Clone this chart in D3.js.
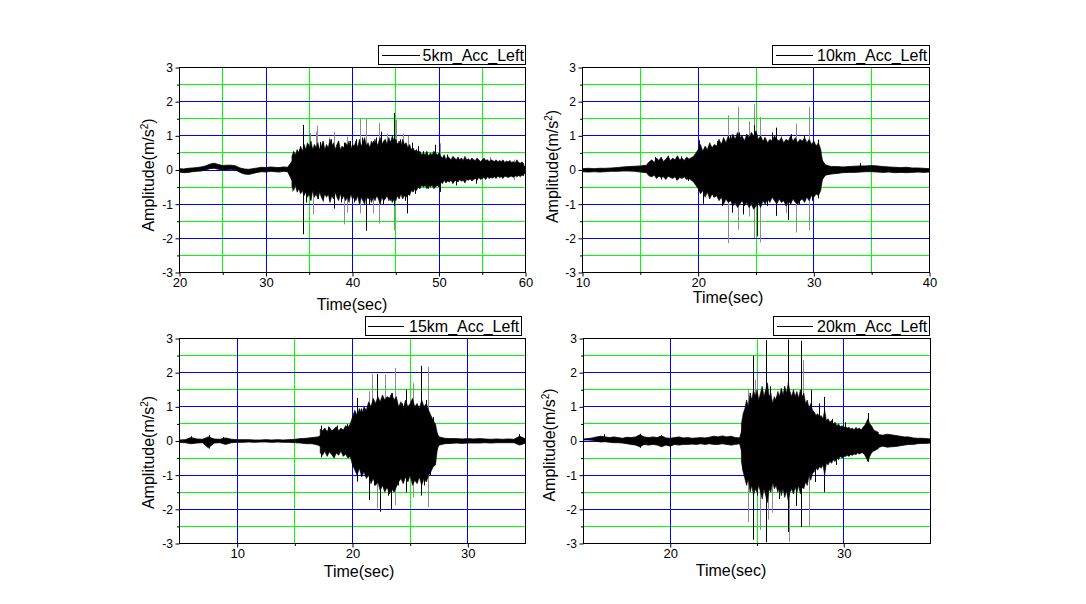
<!DOCTYPE html>
<html><head><meta charset="utf-8">
<script src="https://cdn.jsdelivr.net/npm/d3@7"></script>
<style>
body{margin:0;background:#fff}
svg{display:block}
text{font-family:"Liberation Sans",Arial,sans-serif;fill:#000}
</style>
</head><body>
<svg id="chart" width="1086" height="604"></svg>
<script>
// ---------------- DATA ----------------
const yTickValues = [-3, -2, -1, 0, 1, 2, 3];
const yTickLabels = ["-3", "-2", "-1", "0", "1", "2", "3"];
const yMinorValues = [-2.5, -1.5, -0.5, 0.5, 1.5, 2.5];
const yGridMajor = [-2, -1, 0, 1, 2];

// Panel 1 : 5 km
const p1Name = "5km_Acc_Left";
const p1XDomain = [20, 60];
const p1XTicks = [20, 30, 40, 50, 60];
const p1XTickLabels = ["20", "30", "40", "50", "60"];
const p1XMinor = [25, 35, 45, 55];
// solid core of the trace (envelope), sampled every 0.5 s
const p1TimeStart = 20, p1TimeStep = 0.5;
const p1Upper = [0.04,0.03,0.05,0.06,0.07,0.09,0.12,0.17,0.2,0.16,0.13,0.14,0.14,0.12,0.06,0.03,0.02,0.04,0.06,0.08,0.07,0.09,0.08,0.07,0.09,0.08,
  0.25,0.4,0.35,0.5,0.45,0.5,0.45,0.5,0.45,0.55,0.45,0.5,0.45,0.55,0.45,0.55,0.5,0.6,0.5,0.55,0.55,0.6,0.55,0.6,0.6,0.5,0.55,0.45,0.4,
  0.35,0.32,0.35,0.3,0.32,0.28,0.25,0.24,0.22,0.23,0.2,0.22,0.19,0.18,0.2,0.19,0.18,0.17,0.16,0.17,0.15,0.15,0.13,0.14,0.12,0.11];
const p1Lower = [-0.06,-0.08,-0.07,-0.05,-0.04,-0.03,0.0,0.04,0.05,0.02,0.0,0.01,0.02,0.0,-0.07,-0.12,-0.13,-0.1,-0.07,-0.05,-0.06,-0.04,-0.05,-0.06,-0.04,-0.05,
  -0.3,-0.45,-0.4,-0.5,-0.45,-0.55,-0.45,-0.5,-0.45,-0.55,-0.5,-0.55,-0.55,-0.5,-0.55,-0.5,-0.6,-0.5,-0.55,-0.5,-0.6,-0.5,-0.55,-0.5,-0.6,-0.5,-0.5,-0.45,-0.4,
  -0.35,-0.32,-0.3,-0.32,-0.35,-0.28,-0.25,-0.24,-0.22,-0.24,-0.2,-0.22,-0.19,-0.17,-0.19,-0.16,-0.17,-0.14,-0.15,-0.13,-0.14,-0.12,-0.12,-0.13,-0.11,-0.1];
// oscillation peaks (max / min) every 0.2 s over the strong-motion part
const p1PeakStart = 33.0, p1PeakStep = 0.2;
const p1PeakHi = [0.4,0.55,0.45,0.6,0.5,0.7,0.55,0.75,0.6,0.8,
  0.65,0.85,0.6,0.75,0.65,0.8,0.6,0.7,0.85,0.6,
  0.75,0.65,0.9,0.7,0.8,0.6,0.75,0.85,0.6,0.7,
  0.65,0.8,0.7,0.85,0.6,0.75,0.7,0.85,0.65,0.9,
  0.7,0.8,0.95,0.7,0.8,0.65,0.85,0.75,0.9,0.7,
  0.8,0.95,0.75,0.85,0.9,0.75,0.95,0.8,1.0,0.85,
  0.9,0.75,0.85,0.7,0.9,0.75,0.8,0.65,0.75,0.6,
  0.65,0.55,0.6,0.5,0.55,0.45,0.5,0.45,0.55,0.4,
  0.5,0.45,0.55,0.5,0.45,0.5,
  0.4,0.35,0.45,0.3,0.4,0.35,0.3,0.4,0.35,0.3,
  0.38,0.3,0.35,0.28,0.4,0.3,0.33,0.28,0.35,0.3,
  0.28,0.35,0.3,0.25,0.3,0.35,0.28,0.3,0.25,0.3,
  0.28,0.25,0.3,0.24,0.28,0.25,0.3,0.22,0.26,0.24,
  0.28,0.22,0.25,0.2,0.3,0.22,0.2,0.24,0.18];
const p1PeakLo = [-0.5,-0.6,-0.45,-0.65,-0.55,-0.7,-0.6,-0.75,-0.65,-0.8,
  -0.7,-0.9,-0.6,-0.8,-0.7,-0.85,-0.65,-0.8,-0.9,-0.7,
  -0.8,-0.7,-0.95,-0.75,-0.85,-0.65,-0.8,-0.9,-0.7,-0.85,
  -0.75,-0.9,-0.8,-0.95,-0.7,-0.85,-0.8,-0.9,-0.75,-1.0,
  -0.8,-0.9,-1.0,-0.75,-0.85,-0.8,-0.95,-0.8,-0.9,-0.75,
  -0.85,-1.0,-0.8,-0.9,-0.85,-0.75,-0.9,-0.8,-0.95,-0.85,
  -0.9,-0.75,-0.85,-0.7,-0.85,-0.75,-0.8,-0.7,-0.75,-0.6,
  -0.65,-0.55,-0.6,-0.5,-0.55,-0.45,-0.5,-0.45,-0.55,-0.45,
  -0.5,-0.45,-0.55,-0.5,-0.45,-0.5,
  -0.35,-0.4,-0.3,-0.38,-0.32,-0.35,-0.3,-0.4,-0.32,-0.3,
  -0.35,-0.28,-0.33,-0.3,-0.38,-0.28,-0.3,-0.26,-0.32,-0.28,
  -0.25,-0.3,-0.22,-0.28,-0.25,-0.22,-0.28,-0.2,-0.25,-0.22,
  -0.24,-0.2,-0.25,-0.18,-0.22,-0.2,-0.25,-0.18,-0.2,-0.22,
  -0.2,-0.18,-0.22,-0.17,-0.2,-0.16,-0.2,-0.15,-0.17];
// isolated large spikes [time, peak value, shade: 0 black / 1 grey]
const p1Spikes = [[33.1,0.45,1],[33.1,-0.64,1],[33.6,-0.63,1],[33.9,0.6,0],[34.3,1.32,0],[34.3,-1.88,0],[34.7,-0.95,0],[34.9,0.75,0],
  [35.1,1.08,1],[35.1,-0.88,0],[35.5,-1.3,1],[35.8,1.12,1],[35.9,1.3,1],[36.1,-0.85,0],[36.3,0.82,0],[36.7,0.8,0],[36.7,-0.95,1],
  [37.3,0.95,1],[37.3,-0.9,0],[37.6,0.9,0],[37.9,1.12,1],[37.9,-1.13,0],[38.4,0.85,0],[38.7,-0.95,0],[39.1,-1.59,1],[39.1,0.8,0],
  [39.4,0.98,1],[39.4,-1.25,1],[39.8,0.85,0],[40.2,-0.95,0],[40.5,0.9,0],[40.9,1.49,1],[40.9,-1.27,1],[41.2,0.95,0],[41.6,1.49,1],
  [41.6,-1.78,0],[42.0,-1.0,0],[42.4,-1.27,1],[42.4,0.85,0],[42.8,0.95,0],[43.1,1.37,1],[43.1,-1.57,1],[43.3,1.12,0],[43.6,-1.0,0],
  [44.1,1.05,1],[44.4,-0.9,0],[44.8,1.67,0],[44.8,-1.76,1],[44.9,-1.05,0],[45.1,1.47,1],[45.5,0.9,0],[45.9,1.05,1],[46.1,-0.9,0],
  [46.4,-1.27,0],[46.5,1.0,1],[46.9,0.8,0],[47.3,-0.7,0],[47.6,0.7,0],[48.2,0.55,0],[48.8,-0.55,0],[49.6,0.74,0],[50.2,0.78,1],
  [50.2,-0.64,0],[51.0,0.45,0],[52.0,-0.45,0],[54.3,-0.4,0],[56.0,0.38,1],[58.7,0.3,1],[58.7,-0.3,1]];

// Panel 2 : 10 km
const p2Name = "10km_Acc_Left";
const p2XDomain = [10, 40];
const p2XTicks = [10, 20, 30, 40];
const p2XTickLabels = ["10", "20", "30", "40"];
const p2XMinor = [15, 25, 35];
const p2TimeStart = 10, p2TimeStep = 0.5;
const p2Upper = [0.04,0.05,0.04,0.05,0.05,0.06,0.07,0.09,0.1,0.11,0.12,0.14,0.18,0.2,0.22,0.2,0.22,0.2,0.22,0.25,
  0.35,0.4,0.45,0.45,0.55,0.55,0.6,0.65,0.6,0.65,0.65,0.6,0.55,0.55,0.6,0.6,0.6,0.55,0.6,0.5,
  0.5,0.4,0.15,0.1,0.1,0.09,0.1,0.11,0.12,0.12,0.13,0.12,0.1,0.09,0.08,0.07,0.08,0.06,0.06,0.05,0.04];
const p2Lower = [-0.05,-0.06,-0.05,-0.06,-0.05,-0.04,-0.04,-0.03,-0.03,-0.04,-0.06,-0.08,-0.1,-0.12,-0.12,-0.13,-0.12,-0.14,-0.15,-0.2,
  -0.3,-0.4,-0.4,-0.45,-0.5,-0.55,-0.55,-0.6,-0.6,-0.65,-0.6,-0.6,-0.55,-0.5,-0.55,-0.6,-0.65,-0.55,-0.6,-0.55,
  -0.5,-0.4,-0.15,-0.12,-0.1,-0.08,-0.07,-0.07,-0.06,-0.05,-0.05,-0.06,-0.07,-0.06,-0.08,-0.07,-0.08,-0.07,-0.06,-0.07,-0.06];
const p2PeakStart = 15.6, p2PeakStep = 0.2;
const p2PeakHi = [0.18,0.25,0.3,0.22,0.35,0.28,0.38,0.25,0.32,0.4,0.28,0.35,0.3,0.42,0.3,0.35,0.28,0.38,0.32,0.36,
  0.4,0.5,0.6,0.75,0.55,0.7,0.6,0.8,0.65,0.75,
  0.7,0.9,0.75,0.95,0.8,1.0,0.85,1.05,0.9,1.1,
  0.95,1.0,0.85,1.05,0.95,1.1,1.0,1.15,0.9,1.0,
  0.85,0.95,0.8,0.9,0.85,1.0,0.9,0.85,0.95,0.8,
  0.9,0.85,1.0,0.85,0.95,0.8,0.9,0.85,0.95,0.8,
  0.9,0.75,0.85,0.7,0.8,0.6,0.15,0.12];
const p2PeakLo = [-0.12,-0.18,-0.2,-0.15,-0.25,-0.18,-0.22,-0.2,-0.28,-0.18,-0.22,-0.25,-0.2,-0.3,-0.22,-0.25,-0.2,-0.28,-0.25,-0.3,
  -0.35,-0.45,-0.55,-0.7,-0.6,-0.8,-0.65,-0.85,-0.7,-0.8,
  -0.75,-0.9,-0.8,-1.0,-0.85,-0.95,-0.9,-1.05,-0.95,-1.1,
  -1.0,-0.9,-1.05,-0.95,-1.1,-1.0,-1.15,-1.05,-0.95,-1.1,
  -0.9,-1.0,-0.85,-0.95,-0.8,-0.9,-1.0,-0.85,-0.95,-0.9,
  -1.05,-0.9,-1.0,-0.85,-0.95,-1.0,-0.9,-0.85,-0.95,-0.8,
  -0.9,-0.75,-0.8,-0.7,-0.75,-0.6,-0.15,-0.12];
const p2Spikes = [[16.3,0.38,0],[16.8,-0.28,0],[17.4,0.42,0],[18.1,-0.3,0],[18.6,0.4,0],[19.2,-0.32,0],[20.1,0.87,0],[20.2,-0.68,0],
  [20.5,-0.99,0],[20.9,0.7,0],[21.3,-0.8,0],[21.7,0.85,0],[22.1,-1.05,0],[22.6,1.6,1],[22.6,-2.14,1],[22.8,1.0,0],[23.0,-1.25,0],
  [23.5,1.84,1],[23.5,-1.75,1],[23.6,1.1,0],[23.9,-1.3,0],[24.2,1.0,0],[24.4,-1.36,1],[24.4,1.42,1],[24.9,1.92,1],[24.9,1.31,0],
  [24.9,-1.99,1],[25.1,-1.94,0],[25.4,1.55,1],[25.4,-2.12,1],[25.7,0.95,0],[26.0,-1.05,0],[26.4,1.1,0],[26.8,1.24,0],[26.8,-1.34,0],
  [27.2,1.0,1],[27.6,-1.25,1],[27.8,-1.46,0],[28.1,1.05,0],[28.5,1.36,1],[28.5,-1.83,1],[28.8,-1.0,0],[29.2,1.0,0],[29.6,1.84,1],
  [29.6,-1.77,1],[29.9,-0.9,0],[30.4,0.89,0],[30.4,-0.83,0],[34.0,0.2,0]];

// Panel 3 : 15 km
const p3Name = "15km_Acc_Left";
const p3XDomain = [5, 35];
const p3XTicks = [10, 20, 30];
const p3XTickLabels = ["10", "20", "30"];
const p3XMinor = [15, 25];
const p3TimeStart = 5, p3TimeStep = 0.5;
const p3Upper = [0.03,0.04,0.1,0.06,0.05,0.12,0.06,0.05,0.09,0.05,0.04,0.04,0.04,0.03,0.03,0.04,0.03,0.04,0.03,0.04,
  0.05,0.07,0.08,0.1,0.12,0.2,0.22,0.2,0.22,0.25,0.45,0.55,0.55,0.7,0.75,0.8,0.85,0.9,0.7,0.65,
  0.75,0.65,0.7,0.6,0.45,0.12,0.08,0.07,0.07,0.06,0.07,0.06,0.07,0.06,0.05,0.06,0.05,0.06,0.05,0.14,0.06];
const p3Lower = [-0.04,-0.05,-0.08,-0.06,-0.05,-0.2,-0.06,-0.05,-0.1,-0.05,-0.04,-0.04,-0.03,-0.04,-0.03,-0.03,-0.04,-0.03,-0.04,-0.04,
  -0.05,-0.06,-0.08,-0.08,-0.12,-0.2,-0.2,-0.22,-0.2,-0.22,-0.45,-0.6,-0.55,-0.7,-0.8,-0.85,-0.9,-0.95,-0.75,-0.7,
  -0.75,-0.8,-0.7,-0.65,-0.5,-0.12,-0.08,-0.07,-0.06,-0.07,-0.06,-0.06,-0.06,-0.05,-0.06,-0.05,-0.05,-0.05,-0.05,-0.12,-0.06];
const p3PeakStart = 17.2, p3PeakStep = 0.2;
const p3PeakHi = [0.35,0.3,0.38,0.28,0.4,0.3,0.35,0.42,0.3,0.38,
  0.32,0.45,0.4,0.5,0.7,0.9,0.75,0.95,0.8,1.0,
  0.9,1.15,1.0,1.25,1.1,1.3,1.15,1.35,1.2,1.3,
  1.25,1.4,1.2,1.3,1.0,1.15,0.95,1.2,1.0,1.1,
  1.25,1.0,1.1,0.95,1.2,1.0,1.1,0.9,0.75,0.6,
  0.5,0.12];
const p3PeakLo = [-0.35,-0.42,-0.3,-0.45,-0.32,-0.4,-0.5,-0.35,-0.42,-0.3,
  -0.45,-0.38,-0.5,-0.45,-0.7,-0.85,-1.0,-0.8,-1.05,-0.9,
  -1.1,-1.0,-1.25,-1.1,-1.3,-1.2,-1.45,-1.3,-1.5,-1.35,
  -1.55,-1.4,-1.5,-1.35,-1.2,-1.1,-1.25,-1.05,-1.2,-1.0,
  -1.3,-1.15,-1.25,-1.05,-1.3,-1.1,-1.2,-1.0,-0.9,-0.75,
  -0.7,-0.12];
const p3Spikes = [[6.0,0.14,0],[7.6,0.17,0],[7.6,-0.22,0],[8.8,0.12,0],[17.3,0.45,0],[17.3,-0.48,0],[17.9,0.42,0],[18.4,-0.5,1],
  [18.7,0.45,0],[19.3,-0.42,0],[19.6,0.5,0],[20.0,-0.75,0],[20.2,0.8,0],[20.4,1.26,0],[20.4,-1.19,0],[20.8,0.95,0],[21.1,-1.0,0],
  [21.5,1.45,1],[21.5,-1.73,0],[21.7,1.96,1],[21.9,-1.3,0],[22.2,1.96,0],[22.2,-1.97,1],[22.4,-2.07,0],[22.6,1.3,0],[22.9,1.94,1],
  [23.1,-1.6,0],[23.4,-2.0,0],[23.5,1.4,0],[23.7,2.14,1],[23.7,-1.87,1],[24.0,-1.3,0],[24.3,1.1,0],[24.7,1.5,0],[24.7,-1.5,0],
  [25.0,1.2,1],[25.3,1.69,1],[25.3,-1.65,1],[25.6,-1.2,0],[26.0,2.2,0],[26.0,-1.6,0],[26.2,-1.3,0],[26.4,1.2,0],[26.6,2.17,1],
  [26.6,-1.94,1],[26.8,-1.0,0],[27.0,0.7,0],[34.5,0.2,0]];

// Panel 4 : 20 km
const p4Name = "20km_Acc_Left";
const p4XDomain = [15, 35];
const p4XTicks = [20, 30];
const p4XTickLabels = ["20", "30"];
const p4XMinor = [25];
const p4TimeStart = 15, p4TimeStep = 0.25;
const p4Upper = [0.06,0.07,0.09,0.12,0.14,0.12,0.1,0.12,0.1,0.08,0.11,0.1,0.12,0.18,0.12,0.1,0.12,0.1,0.15,0.09,
  0.08,0.1,0.12,0.09,0.1,0.08,0.09,0.1,0.09,0.11,0.14,0.12,0.15,0.12,0.14,0.1,0.09,0.5,0.7,0.85,
  0.75,0.85,0.9,0.75,0.7,0.8,0.9,0.85,0.75,0.85,0.75,0.7,0.6,0.5,0.45,0.45,0.38,0.35,0.3,0.28,
  0.26,0.25,0.23,0.24,0.22,0.26,0.38,0.26,0.19,0.17,0.2,0.18,0.16,0.14,0.12,0.12,0.09,0.08,0.08,0.07,0.06];
const p4Lower = [0.03,0.03,0.02,-0.01,-0.03,-0.02,-0.04,-0.05,-0.05,-0.06,-0.08,-0.1,-0.12,-0.17,-0.1,-0.12,-0.1,-0.12,-0.17,-0.12,
  -0.15,-0.1,-0.12,-0.1,-0.1,-0.09,-0.1,-0.08,-0.1,-0.08,-0.1,-0.1,-0.08,-0.1,-0.12,-0.1,-0.08,-0.55,-0.75,-0.9,
  -0.8,-0.85,-1.0,-0.8,-0.75,-0.85,-0.9,-0.95,-0.8,-0.85,-0.75,-0.7,-0.6,-0.5,-0.5,-0.45,-0.42,-0.38,-0.35,-0.3,
  -0.28,-0.26,-0.23,-0.22,-0.21,-0.23,-0.35,-0.22,-0.19,-0.15,-0.18,-0.17,-0.16,-0.14,-0.12,-0.1,-0.1,-0.08,-0.07,-0.07,-0.06];
const p4PeakStart = 24.1, p4PeakStep = 0.1;
const p4PeakHi = [0.5,0.8,0.95,1.2,1.0,1.4,1.2,1.5,1.3,1.5,
  1.2,1.4,1.6,1.3,1.5,1.7,1.3,1.4,1.1,1.3,
  1.2,1.45,1.3,1.55,1.35,1.6,1.4,1.7,1.45,1.3,
  1.5,1.3,1.45,1.25,1.5,1.3,1.4,1.1,1.2,0.95,
  1.1,0.9,0.85,0.75,0.8,0.7,0.75,0.65,0.9,0.6,
  0.65,0.55,0.6,0.5,0.55,0.45,0.5,0.42,0.45,0.4,
  0.42,0.38,0.4,0.35,0.38,0.32,0.4,0.35,0.38,0.32,
  0.4,0.45,0.55,0.65,0.5,0.45,0.35,0.3,0.28,0.25];
const p4PeakLo = [-0.6,-0.9,-1.1,-1.3,-1.1,-1.5,-1.3,-1.6,-1.4,-1.5,
  -1.3,-1.5,-1.7,-1.4,-1.6,-1.8,-1.4,-1.5,-1.2,-1.4,
  -1.3,-1.5,-1.35,-1.6,-1.4,-1.65,-1.45,-1.75,-1.5,-1.4,
  -1.55,-1.35,-1.5,-1.3,-1.55,-1.35,-1.4,-1.2,-1.3,-1.0,
  -1.15,-0.95,-0.9,-0.8,-0.85,-0.75,-0.8,-0.7,-1.0,-0.65,
  -0.7,-0.6,-0.65,-0.55,-0.6,-0.5,-0.55,-0.45,-0.5,-0.45,
  -0.45,-0.42,-0.45,-0.4,-0.42,-0.38,-0.4,-0.35,-0.38,-0.35,
  -0.35,-0.4,-0.5,-0.6,-0.45,-0.35,-0.3,-0.28,-0.25,-0.22];
const p4Spikes = [[16.2,0.2,0],[18.3,0.21,0],[18.3,-0.2,0],[19.5,0.18,0],[20.0,-0.22,0],[24.15,-0.86,1],[24.15,0.5,0],[24.27,-0.95,0],
  [24.5,1.53,1],[24.5,-2.37,1],[24.6,1.4,0],[24.8,2.5,0],[24.8,-2.89,0],[24.9,1.8,1],[25.0,1.9,1],[25.0,-1.6,0],[25.2,-2.6,1],
  [25.3,1.4,0],[25.56,2.95,0],[25.56,-2.96,0],[25.65,-2.3,1],[25.8,1.6,0],[25.9,-2.1,1],[26.1,1.3,0],[26.3,-1.7,0],[26.6,1.6,1],
  [26.8,2.97,0],[26.8,-2.66,0],[26.85,-2.95,1],[27.1,1.5,1],[27.3,-1.9,0],[27.55,2.93,0],[27.55,-2.52,0],[27.7,2.36,1],
  [28.0,-2.5,1],[28.15,1.5,0],[28.4,-1.2,0],[28.6,1.1,0],[28.9,1.29,0],[28.9,-1.5,0],[29.35,0.65,0],[29.6,-0.7,0],[30.1,0.55,0],
  [31.4,0.82,0],[31.4,-0.61,0]];

// ---------------- LAYOUT ----------------
const panels = [
  {name:p1Name, xDomain:p1XDomain, xTicks:p1XTicks, xLabels:p1XTickLabels, xMinor:p1XMinor, t0:p1TimeStart, dt:p1TimeStep, upper:p1Upper, lower:p1Lower,
   pk0:p1PeakStart, pkDt:p1PeakStep, pkHi:p1PeakHi, pkLo:p1PeakLo, spikes:p1Spikes,
   box:{x0:179.5,x1:525.5,y0:67.5,y1:272.5}, leg:{x0:378.5,x1:525.5,y0:45.5,y1:64.5,l0:382,l1:420,tx:422.5}, yt:{x:153.5,y:175}, xt:{x:352,y:310}},
  {name:p2Name, xDomain:p2XDomain, xTicks:p2XTicks, xLabels:p2XTickLabels, xMinor:p2XMinor, t0:p2TimeStart, dt:p2TimeStep, upper:p2Upper, lower:p2Lower,
   pk0:p2PeakStart, pkDt:p2PeakStep, pkHi:p2PeakHi, pkLo:p2PeakLo, spikes:p2Spikes,
   box:{x0:582.5,x1:929.5,y0:67.5,y1:272.5}, leg:{x0:772.5,x1:929.5,y0:45.5,y1:64.5,l0:776,l1:813,tx:817}, yt:{x:557.5,y:166.5}, xt:{x:728,y:302.5}},
  {name:p3Name, xDomain:p3XDomain, xTicks:p3XTicks, xLabels:p3XTickLabels, xMinor:p3XMinor, t0:p3TimeStart, dt:p3TimeStep, upper:p3Upper, lower:p3Lower,
   pk0:p3PeakStart, pkDt:p3PeakStep, pkHi:p3PeakHi, pkLo:p3PeakLo, spikes:p3Spikes,
   box:{x0:179.5,x1:525.5,y0:338.5,y1:543.5}, leg:{x0:365.5,x1:521.5,y0:316.5,y1:335.5,l0:368,l1:404,tx:409}, yt:{x:153.5,y:452.5}, xt:{x:359,y:576.5}},
  {name:p4Name, xDomain:p4XDomain, xTicks:p4XTicks, xLabels:p4XTickLabels, xMinor:p4XMinor, t0:p4TimeStart, dt:p4TimeStep, upper:p4Upper, lower:p4Lower,
   pk0:p4PeakStart, pkDt:p4PeakStep, pkHi:p4PeakHi, pkLo:p4PeakLo, spikes:p4Spikes,
   box:{x0:583.5,x1:930.5,y0:338.5,y1:543.5}, leg:{x0:773.5,x1:929.5,y0:316.5,y1:335.5,l0:777,l1:813,tx:817}, yt:{x:555,y:445}, xt:{x:731,y:575.5}}
];

const svg = d3.select("#chart");
const snap = v => Math.round(v - 0.5) + 0.5;

panels.forEach((p, pi) => {
  const B = p.box;
  const x = d3.scaleLinear().domain(p.xDomain).range([B.x0, B.x1]);
  const y = d3.scaleLinear().domain([-3, 3]).range([B.y1, B.y0]);
  const g = svg.append("g");

  const clipId = "clip" + pi;
  svg.append("clipPath").attr("id", clipId).append("rect")
    .attr("x", B.x0).attr("y", B.y0).attr("width", B.x1 - B.x0).attr("height", B.y1 - B.y0);

  // grid
  const grid = g.append("g");
  grid.selectAll(".hmin").data(yMinorValues).join("line")
    .attr("x1", B.x0).attr("x2", B.x1).attr("y1", d => snap(y(d))).attr("y2", d => snap(y(d)))
    .attr("stroke", "#00ff00").attr("stroke-width", 1);
  grid.selectAll(".vmin").data(p.xMinor).join("line")
    .attr("y1", B.y0).attr("y2", B.y1).attr("x1", d => snap(x(d))).attr("x2", d => snap(x(d)))
    .attr("stroke", "#00ff00").attr("stroke-width", 1);
  grid.selectAll(".hmaj").data(yGridMajor).join("line")
    .attr("x1", B.x0).attr("x2", B.x1).attr("y1", d => snap(y(d))).attr("y2", d => snap(y(d)))
    .attr("stroke", "#0000ff").attr("stroke-width", 1);
  grid.selectAll(".vmaj").data(p.xTicks.filter(d => d > p.xDomain[0] && d < p.xDomain[1])).join("line")
    .attr("y1", B.y0).attr("y2", B.y1).attr("x1", d => snap(x(d))).attr("x2", d => snap(x(d)))
    .attr("stroke", "#0000ff").attr("stroke-width", 1);

  // waveform
  const wave = g.append("g").attr("clip-path", "url(#" + clipId + ")");
  const samples = p.upper.map((u, i) => ({t: p.t0 + i * p.dt, hi: u, lo: p.lower[i]}));
  const peaks = p.pkHi.map((h, i) => ({t: p.pk0 + i * p.pkDt, hi: h, lo: p.pkLo[i]}));
  const spikeLine = (sel, shade, color) => sel.selectAll(".sp" + shade)
    .data(p.spikes.filter(s => s[2] === shade)).join("line")
    .attr("x1", d => snap(x(d[0]))).attr("x2", d => snap(x(d[0])))
    .attr("y1", y(0)).attr("y2", d => y(d[1]))
    .attr("stroke", color).attr("stroke-width", 1);
  spikeLine(wave, 1, "#8c8c8c");
  const area = d3.area().x(d => x(d.t)).y0(d => y(d.lo)).y1(d => y(d.hi));
  wave.append("path").datum(samples).attr("d", area)
    .attr("fill", "#000").attr("stroke", "#000").attr("stroke-width", 0.8);
  wave.append("path").datum(peaks).attr("d", area)
    .attr("fill", "#000").attr("stroke", "#000").attr("stroke-width", 0.6).attr("stroke-linejoin", "miter");
  spikeLine(wave, 0, "#000");

  // frame
  g.append("rect").attr("x", B.x0).attr("y", B.y0).attr("width", B.x1 - B.x0).attr("height", B.y1 - B.y0)
    .attr("fill", "none").attr("stroke", "#000").attr("stroke-width", 1);

  // axes
  const yAx = g.append("g").attr("transform", `translate(${B.x0},0)`)
    .call(d3.axisLeft(y).tickValues(yTickValues).tickFormat((d, i) => yTickLabels[i]).tickSize(4).tickPadding(2.5).tickSizeOuter(0));
  const yAxMin = g.append("g").attr("transform", `translate(${B.x0},0)`)
    .call(d3.axisLeft(y).tickValues(yMinorValues).tickFormat("").tickSize(2.5).tickSizeOuter(0));
  const xAx = g.append("g").attr("transform", `translate(0,${B.y1})`)
    .call(d3.axisBottom(x).tickValues(p.xTicks).tickFormat((d, i) => p.xLabels[i]).tickSize(4).tickPadding(1).tickSizeOuter(0));
  const xAxMin = g.append("g").attr("transform", `translate(0,${B.y1})`)
    .call(d3.axisBottom(x).tickValues(p.xMinor).tickFormat("").tickSize(2.5).tickSizeOuter(0));
  [yAx, yAxMin, xAx, xAxMin].forEach(a => { a.select(".domain").remove(); a.selectAll("line").attr("stroke", "#000"); });
  yAx.selectAll("text").attr("font-size", 12).attr("font-family", '"Liberation Sans",Arial,sans-serif');
  xAx.selectAll("text").attr("font-size", 13).attr("font-family", '"Liberation Sans",Arial,sans-serif');

  // legend
  const L = p.leg;
  g.append("rect").attr("x", L.x0).attr("y", L.y0).attr("width", L.x1 - L.x0).attr("height", L.y1 - L.y0)
    .attr("fill", "#fff").attr("stroke", "#000").attr("stroke-width", 1);
  g.append("line").attr("x1", L.l0).attr("x2", L.l1).attr("y1", snap((L.y0 + L.y1) / 2)).attr("y2", snap((L.y0 + L.y1) / 2))
    .attr("stroke", "#000").attr("stroke-width", 1);
  g.append("text").attr("x", L.tx).attr("y", L.y1 - 3.5).attr("font-size", 16).text(p.name);

  // axis titles
  const yt = g.append("text").attr("transform", `translate(${p.yt.x},${p.yt.y}) rotate(-90)`)
    .attr("text-anchor", "middle").attr("font-size", 16);
  yt.append("tspan").text("Amplitude(m/s");
  yt.append("tspan").attr("dy", -6).attr("font-size", 10).text("2");
  yt.append("tspan").attr("dy", 6).text(")");
  g.append("text").attr("x", p.xt.x).attr("y", p.xt.y).attr("text-anchor", "middle").attr("font-size", 16).text("Time(sec)");
});
</script>
</body></html>
